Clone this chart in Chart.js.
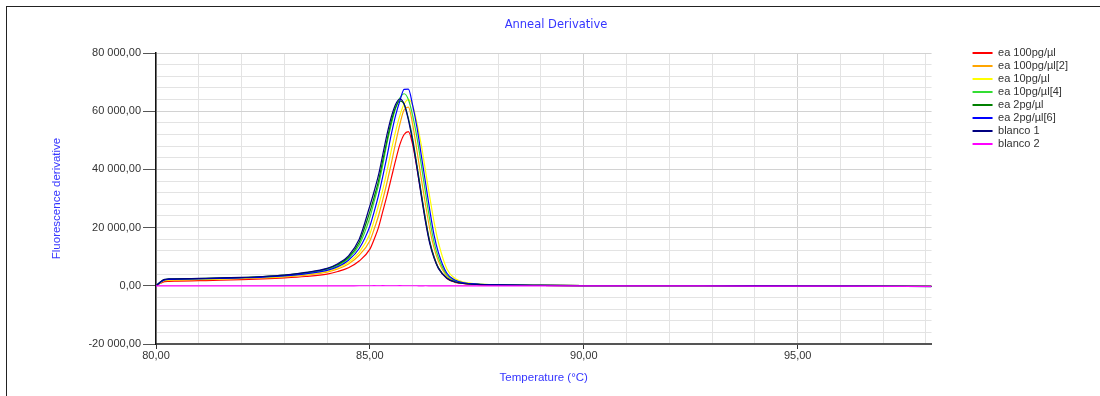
<!DOCTYPE html>
<html>
<head>
<meta charset="utf-8">
<script src="https://cdn.jsdelivr.net/npm/chart.js@4.4.1/dist/chart.umd.min.js"></script>
<style>
  body { margin: 0; background: #fff; }
  #wrap { position: relative; width: 1100px; height: 396px; }
  #frame { position: absolute; left: 6px; top: 6px; right: 0; bottom: 0;
           border-top: 1px solid #222; border-left: 1px solid #222; pointer-events: none; }
</style>
</head>
<body>
<div id="wrap">
  <canvas id="melt"></canvas>
  <div id="frame"></div>
</div>
<script>
// temperature points (°C)
const temps = [80.0, 80.1, 80.2, 80.3, 80.5, 81.0, 81.5, 82.0, 82.5, 83.0, 83.5, 84.0, 84.25, 84.5, 84.75,
  85.0, 85.1, 85.2, 85.3, 85.4, 85.5, 85.6, 85.7, 85.8, 85.9, 86.0, 86.1, 86.2, 86.3, 86.4, 86.5, 86.6,
  86.8, 87.0, 87.2, 87.5, 88.0, 89.0, 90.0, 92.0, 94.0, 96.0, 98.13];

// -dF/dT for every well
const ea100 = [0, 850, 1450, 1550, 1600, 1750, 1900, 2100, 2350, 2700, 3200, 4000, 4900, 6200, 8500,
  12600, 16000, 20000, 25500, 31000, 37000, 43000, 48500, 52000, 53000, 48500, 40500, 31500, 22500, 15000, 9800, 6200,
  2500, 1200, 750, 480, 290, 150, 80, 30, 0, -100, -220];
const ea100b = [0, 950, 1750, 1900, 1950, 2100, 2250, 2450, 2700, 3050, 3700, 4700, 5800, 7500, 10500,
  15500, 19500, 24000, 29500, 35500, 42000, 49000, 55500, 60500, 61400, 55500, 46500, 37000, 28000, 19500, 13000, 8500,
  3300, 1500, 850, 520, 300, 150, 80, 30, 0, -100, -220];
const ea10 = [0, 1050, 1900, 2050, 2100, 2250, 2400, 2600, 2850, 3200, 3900, 5000, 6200, 8100, 11500,
  17800, 22500, 27500, 33000, 39500, 46500, 53000, 58500, 62500, 64000, 62000, 56000, 48500, 39500, 30500, 22000, 15000,
  5800, 2400, 1250, 650, 340, 170, 80, 30, 0, -100, -220];
const ea10b = [0, 1200, 2100, 2250, 2300, 2450, 2600, 2800, 3050, 3500, 4300, 5600, 7000, 9400, 14000,
  23500, 29000, 34500, 41500, 49000, 55500, 61000, 64500, 66000, 64000, 58500, 51000, 41700, 32000, 22700, 15000, 9800,
  3800, 1700, 950, 560, 320, 160, 80, 30, 0, -100, -220];
const ea2 = [0, 1250, 2150, 2300, 2350, 2500, 2650, 2850, 3150, 3650, 4500, 5850, 7300, 9800, 15000,
  25500, 30500, 36000, 43000, 50000, 56500, 61300, 63500, 62500, 57500, 50500, 41500, 32000, 23000, 15200, 10000, 6300,
  2700, 1300, 800, 500, 300, 150, 80, 30, 0, -100, -230];
const ea2b = [0, 1150, 2050, 2200, 2250, 2400, 2550, 2750, 3000, 3400, 4100, 5300, 6600, 8800, 12800,
  20500, 25500, 31000, 37500, 44500, 52000, 58500, 63500, 67500, 67600, 62000, 54500, 45000, 35500, 26000, 17500, 11500,
  4300, 1900, 1050, 600, 330, 160, 80, 30, 0, -100, -220];
const blanco1 = [0, 1300, 2200, 2350, 2400, 2550, 2700, 2900, 3200, 3700, 4600, 6000, 7600, 10300, 16000,
  27500, 32500, 38000, 45000, 52000, 58000, 62300, 64200, 62500, 57000, 49500, 40500, 31000, 22000, 14500, 9500, 6000,
  2600, 1300, 800, 500, 300, 150, 80, 30, 0, -100, -250];
const blanco2 = [0, -40, -60, -50, -30, -20, -40, -30, -20, -10, -30, -20, -10, 0, 10,
  20, 30, 20, 30, 20, 10, 20, 30, 20, 10, 20, 10, 0, 10, 0, -10, 0,
  -10, -20, -10, -20, -10, -20, -20, -50, -80, -130, -200];

const seriesNames = ['ea 100pg/µl', 'ea 100pg/µl[2]', 'ea 10pg/µl', 'ea 10pg/µl[4]',
  'ea 2pg/µl', 'ea 2pg/µl[6]', 'blanco 1', 'blanco 2'];
const seriesValues = [ea100, ea100b, ea10, ea10b, ea2, ea2b, blanco1, blanco2];
const seriesColors = ['#ff0000', '#ffa500', '#ffff00', '#33dd33', '#008000', '#0000ff', '#000080', '#ff00ff'];

// major ticks carrying labels
const xMajor = [80, 85, 90, 95];
const yMajor = [-20000, 0, 20000, 40000, 60000, 80000];

function fmt(v) {
  const parts = Math.abs(v).toFixed(2).split('.');
  const whole = parts[0].replace(/\B(?=(\d{3})+(?!\d))/g, ' ');
  return (v < 0 ? '-' : '') + whole + ',' + parts[1];
}

const blue = '#3535ff';
const tickFont = { family: 'Liberation Sans', size: 11 };

// later wells are painted on top
const datasets = seriesNames.map((name, i) => ({
  label: name,
  data: temps.map((t, k) => ({ x: t, y: seriesValues[i][k] })),
  borderColor: seriesColors[i],
  backgroundColor: seriesColors[i],
  borderWidth: 1.2,
  pointRadius: 0,
  cubicInterpolationMode: 'monotone',
  order: seriesNames.length - 1 - i
}));

// lift the legend to the top gridline and nudge the title right
const placeBlocks = {
  id: 'placeBlocks',
  afterLayout(chart) {
    chart.legend.top = chart.chartArea.top - 7.5;
    chart.titleBlock.left += 24;
  }
};

new Chart(document.getElementById('melt'), {
  type: 'line',
  data: { datasets },
  plugins: [placeBlocks],
  options: {
    responsive: true,
    maintainAspectRatio: false,
    animation: false,
    layout: { padding: { left: 10, top: 10, right: 22, bottom: 0 } },
    plugins: {
      title: {
        display: true,
        text: 'Anneal Derivative',
        color: blue,
        font: { family: 'DejaVu Sans', size: 11.5, weight: 'normal' },
        padding: { top: 8, bottom: 21.2 }
      },
      legend: {
        position: 'right',
        align: 'start',
        fullSize: false,
        labels: {
          boxWidth: 20,
          boxHeight: 2,
          padding: 2,
          color: '#333',
          font: tickFont,
          sort: (a, b) => a.datasetIndex - b.datasetIndex,
          generateLabels: chart => Chart.defaults.plugins.legend.labels.generateLabels(chart)
            .map(l => Object.assign(l, { lineWidth: 0 }))
        }
      },
      tooltip: { enabled: false }
    },
    scales: {
      x: {
        type: 'linear',
        min: 80,
        max: 98.13,
        afterFit: s => { s.height = 52; },
        ticks: {
          stepSize: 1,
          includeBounds: false,
          autoSkip: false,
          maxRotation: 0,
          padding: 0,
          color: '#333',
          font: tickFont,
          callback: v => xMajor.includes(v) ? fmt(v) : ''
        },
        grid: {
          tickLength: 5,
          color: c => xMajor.includes(c.tick && c.tick.value) ? '#d2d2d2' : '#e3e3e3',
          tickColor: c => xMajor.includes(c.tick && c.tick.value) ? '#333' : 'rgba(0,0,0,0)'
        },
        border: { color: '#555', width: 2 },
        title: {
          display: true,
          text: 'Temperature (°C)',
          color: blue,
          font: { family: 'Liberation Sans', size: 11.5 },
          padding: { top: 0, bottom: 11 }
        }
      },
      y: {
        min: -20000,
        max: 80000,
        afterFit: s => { s.width = 146; },
        ticks: {
          stepSize: 4000,
          autoSkip: false,
          padding: 2,
          color: '#333',
          font: tickFont,
          callback: v => yMajor.includes(v) ? fmt(v) : ''
        },
        grid: {
          tickLength: 13,
          color: c => yMajor.includes(c.tick && c.tick.value) ? '#d2d2d2' : '#e3e3e3',
          tickColor: c => yMajor.includes(c.tick && c.tick.value) ? '#555' : 'rgba(0,0,0,0)'
        },
        border: { color: '#111', width: 1.5 },
        title: {
          display: true,
          text: 'Fluorescence derivative',
          color: blue,
          font: { family: 'Liberation Sans', size: 11.5 },
          padding: { top: 40, bottom: 0 }
        }
      },
      // empty band between the plot and the legend
      gap: {
        type: 'linear',
        position: 'right',
        afterFit: s => { s.width = 39; },
        ticks: { display: false },
        grid: { display: false },
        border: { display: false }
      }
    }
  }
});
</script>
</body>
</html>
